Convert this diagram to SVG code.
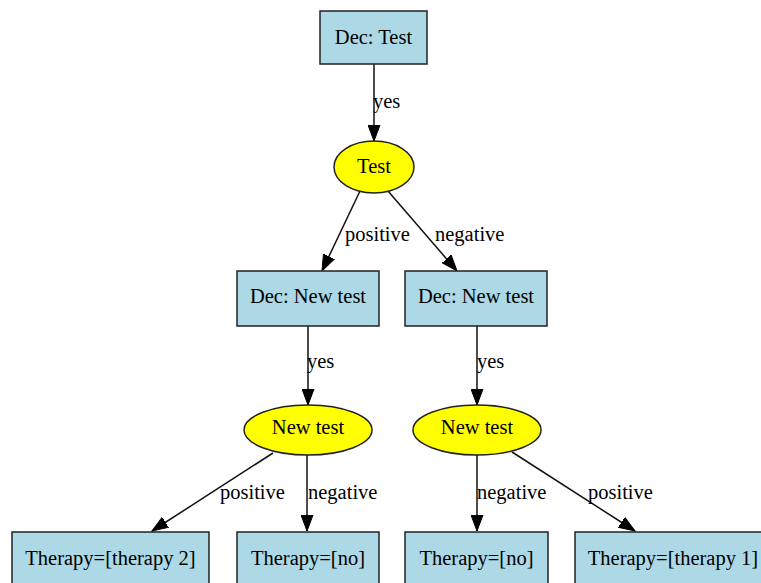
<svg xmlns="http://www.w3.org/2000/svg" width="761" height="583" viewBox="0 0 761 583">
  <style>
    .box { fill: #add8e6; stroke: #222; stroke-width: 1.5; }
    .chance { fill: #ffff00; stroke: #222; stroke-width: 1.5; }
    text { font-family: 'Liberation Serif', 'Times New Roman', Times, serif; font-size: 20.5px; fill: #000; }
    .lbl { text-anchor: middle; }
    .edge { stroke: #111; stroke-width: 1.5; fill: none; marker-end: url(#arrow); }
  </style>
  <defs>
    <marker id="arrow" markerUnits="userSpaceOnUse" markerWidth="17" markerHeight="13" refX="16" refY="6.5" orient="auto">
      <path d="M0,0.5 L16,6.5 L0,12.5 z" fill="#000" stroke="#000" stroke-width="1"/>
    </marker>
  </defs>
  <rect width="761" height="583" fill="#ffffff"/>

  <!-- edges and their labels -->
  <g id="connectors">
    <line class="edge" x1="374" y1="64" x2="374" y2="141"/>
    <line class="edge" x1="360" y1="191" x2="322" y2="271"/>
    <line class="edge" x1="388" y1="191" x2="457" y2="271"/>
    <line class="edge" x1="308" y1="326" x2="308" y2="405"/>
    <line class="edge" x1="477" y1="326" x2="477" y2="405"/>
    <line class="edge" x1="273" y1="453" x2="152" y2="531"/>
    <line class="edge" x1="307" y1="455" x2="307" y2="531"/>
    <line class="edge" x1="477" y1="455" x2="477" y2="531"/>
    <line class="edge" x1="512" y1="452" x2="635" y2="531"/>
    <text x="373" y="108">yes</text>
    <text x="345" y="241">positive</text>
    <text x="435" y="241">negative</text>
    <text x="307" y="368">yes</text>
    <text x="477" y="368">yes</text>
    <text x="220" y="499">positive</text>
    <text x="308" y="499">negative</text>
    <text x="477" y="499">negative</text>
    <text x="588" y="499">positive</text>
  </g>

  <g id="dec_test">
    <rect class="box" x="320" y="11" width="107" height="53"/>
    <text class="lbl" x="373.5" y="44">Dec: Test</text>
  </g>
  <g id="test">
    <ellipse class="chance" cx="374" cy="167" rx="40" ry="26"/>
    <text class="lbl" x="374" y="173">Test</text>
  </g>
  <g id="dec_newtest_pos">
    <rect class="box" x="237" y="271" width="142" height="55"/>
    <text class="lbl" x="308" y="303">Dec: New test</text>
  </g>
  <g id="dec_newtest_neg">
    <rect class="box" x="405" y="271" width="142" height="55"/>
    <text class="lbl" x="476" y="303">Dec: New test</text>
  </g>
  <g id="newtest_pos">
    <ellipse class="chance" cx="308" cy="430" rx="64" ry="25"/>
    <text class="lbl" x="308" y="434">New test</text>
  </g>
  <g id="newtest_neg">
    <ellipse class="chance" cx="477" cy="430" rx="64" ry="25"/>
    <text class="lbl" x="477" y="434">New test</text>
  </g>
  <g id="therapy2">
    <rect class="box" x="12" y="532" width="197" height="60"/>
    <text class="lbl" x="110.5" y="565">Therapy=[therapy 2]</text>
  </g>
  <g id="therapy_no_a">
    <rect class="box" x="237" y="532" width="142" height="60"/>
    <text class="lbl" x="308" y="565">Therapy=[no]</text>
  </g>
  <g id="therapy_no_b">
    <rect class="box" x="405" y="532" width="143" height="60"/>
    <text class="lbl" x="476.5" y="565">Therapy=[no]</text>
  </g>
  <g id="therapy1">
    <rect class="box" x="575" y="532" width="190" height="60"/>
    <text class="lbl" x="673" y="565">Therapy=[therapy 1]</text>
  </g>
</svg>
